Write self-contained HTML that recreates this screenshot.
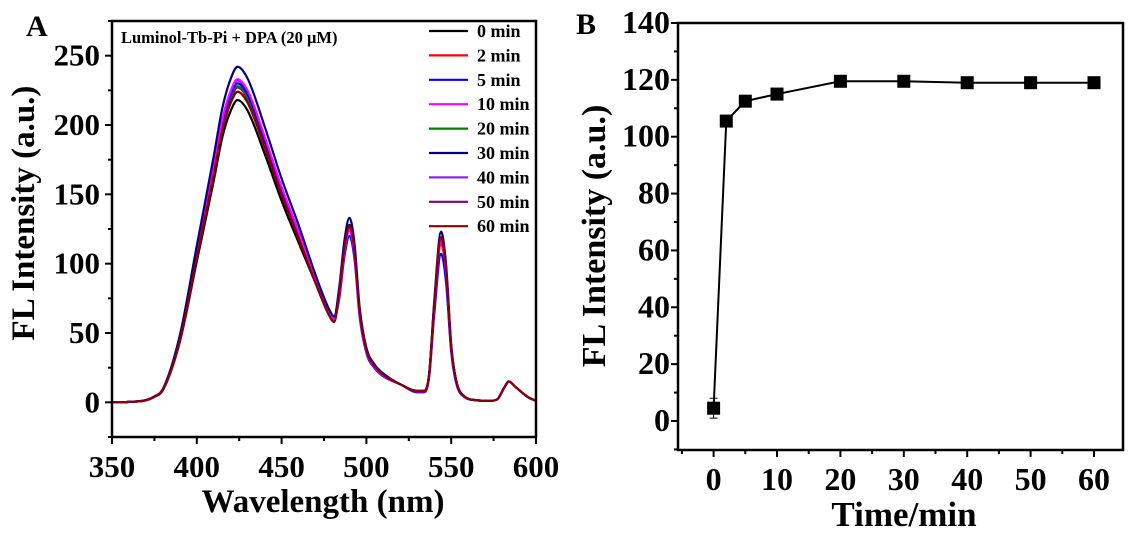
<!DOCTYPE html>
<html><head><meta charset="utf-8">
<style>
html,body{margin:0;padding:0;background:#fff;}
svg{display:block;font-family:"Liberation Serif",serif;font-weight:bold;}
</style></head>
<body>
<svg id="fig" width="1133" height="534" viewBox="0 0 1133 534">
  <g id="pa"></g>
  <g id="pb"></g>
</svg>
<script>
// ---------- Panel A data ----------
const waves = [350,360,370,375,380,390,400,410,415,420,424,430,440,450,460,470,478,481,484,487,490,493,496,500,505,510,520,530,534,537,540,544,547,550,553,558,565,572,577,581,584,588,595,600];
const baseVals = [0,0.3,1.5,4,9,45,105,165,197,217,225,217,185,150,119,89,65,60,80,112,128,110,66,38,26,20,13,8,8,20,70,118,95,40,15,4,1.5,1,2,10,15,11,4,1];
const seriesNames = ["0 min","2 min","5 min","10 min","20 min","30 min","40 min","50 min","60 min"];
const seriesColors = ["#000000","#ff0000","#0000ff","#ff00ff","#008000","#000080","#8a2be2","#800080","#8b0000"];
const mainPeaks = [218,224,230,233,228,242,232,227,224];
const peak490 = [128,126,120,124,127,133,126,127,127];
const peak544 = [118,114,107,116,118,123,117,119,119];
const dipVals = [58,59,61,60,60,62,60,59,58];

// ---------- Panel B data ----------
const times = [0,2,5,10,20,30,40,50,60];
const intensities = [4.5,105.5,112.5,115,119.5,119.5,119,119,119];
const errors = [3.5,0.5,0.5,0.5,0.5,0.5,0.5,0.5,0.5];

const NS="http://www.w3.org/2000/svg";
function mk(tag,attrs,parent,text){const e=document.createElementNS(NS,tag);for(const k in attrs)e.setAttribute(k,attrs[k]);if(text!==undefined)e.textContent=text;parent.appendChild(e);return e;}

// ---------- Panel A ----------
const pa=document.getElementById('pa');
const AL=112,AR=536,AT=21,AB=437;
const ax=v=>AL+(v-350)/(600-350)*(AR-AL);
const ay=v=>AB-(v-(-25))/(275-(-25))*(AB-AT);
const clipA=mk('clipPath',{id:'clipA'},pa);mk('rect',{x:AL,y:AT,width:AR-AL,height:AB-AT},clipA);
const linesA=mk('g',{'clip-path':'url(#clipA)'},pa);


function seriesValues(i){
  return baseVals.map((b,j)=>{
    const w=waves[j];
    if(w<=481){ if(w>=470) return b*dipVals[i]/60; return b*mainPeaks[i]/225; }
    if(w<=515) return b*peak490[i]/128;
    if(w>=530&&w<=560) return b*peak544[i]/118;
    return b;
  });
}
function smoothPath(xs,ys){
  const n=xs.length,d=[],m=[];
  for(let i=0;i<n-1;i++)d.push((ys[i+1]-ys[i])/(xs[i+1]-xs[i]));
  m[0]=d[0];m[n-1]=d[n-2];
  for(let i=1;i<n-1;i++)m[i]=(d[i-1]*d[i]<=0)?0:(d[i-1]+d[i])/2;
  for(let i=0;i<n-1;i++){if(d[i]===0){m[i]=0;m[i+1]=0;continue;}const a=m[i]/d[i],b=m[i+1]/d[i],s=a*a+b*b;if(s>9){const t=3/Math.sqrt(s);m[i]=t*a*d[i];m[i+1]=t*b*d[i];}}
  let p=`M${xs[0]},${ys[0]}`;
  for(let i=0;i<n-1;i++){const h=xs[i+1]-xs[i];p+=` C${xs[i]+h/3},${ys[i]+m[i]*h/3} ${xs[i+1]-h/3},${ys[i+1]-m[i+1]*h/3} ${xs[i+1]},${ys[i+1]}`;}
  return p;
}
const order=[0,1,7,4,6,2,3,5,8];
order.forEach(i=>{
  const vals=seriesValues(i);
  const p=mk('path',{d:smoothPath(waves.map(ax),vals.map(ay)),fill:'none',stroke:seriesColors[i],'stroke-width':2.2},linesA);
  
  
});
mk('rect',{x:AL,y:AT,width:AR-AL,height:AB-AT,fill:'none',stroke:'#000','stroke-width':2.5,},pa);
const xTicksA=[350,400,450,500,550,600];
const yTicksA=[0,50,100,150,200,250];
for(let v=350;v<=600;v+=25){const x=ax(v);mk('line',{x1:x,y1:AB,x2:x,y2:AB+(v%50===0?7:4),stroke:'#000','stroke-width':2},pa);}
for(let v=-25;v<=275;v+=25){const y=ay(v);mk('line',{x1:AL,y1:y,x2:AL-(v%50===0?7:4),y2:y,stroke:'#000','stroke-width':2},pa);}
xTicksA.forEach(v=>{const t=mk('text',{x:ax(v),y:477,'font-size':31,'text-anchor':'middle'},pa,String(v));});
yTicksA.forEach(v=>{const t=mk('text',{x:100,y:ay(v)+10,'font-size':31,'text-anchor':'end'},pa,String(v));});
mk('text',{x:323,y:512,'font-size':33,'text-anchor':'middle',},pa,'Wavelength (nm)');
mk('text',{x:0,y:0,'font-size':33,'text-anchor':'middle',transform:'translate(34,213) rotate(-90)',},pa,'FL Intensity (a.u.)');
mk('text',{x:26,y:36,'font-size':30,},pa,'A');
mk('text',{x:121,y:43,'font-size':16.5,},pa,'Luminol-Tb-Pi + DPA (20 μM)');
seriesNames.forEach((n,i)=>{
  const g=mk('g',{},pa);
  
  
  const y=31+i*24.4;
  mk('line',{x1:429,y1:y,x2:468,y2:y,stroke:seriesColors[i],'stroke-width':2.2},g);
  mk('text',{x:477,y:y+6,'font-size':18},g,n);
});

// ---------- Panel B ----------
const pb=document.getElementById('pb');
const BL=678,BR=1123,BT=23,BB=450;
const bx=v=>713.6+v*(1094-713.6)/60;
const by=v=>421-v*(421-23)/140;
mk('rect',{x:BL,y:BT,width:BR-BL,height:BB-BT,fill:'none',stroke:'#000','stroke-width':2.5,},pb);
for(let v=-5;v<=65;v+=5){const x=bx(v);if(x<BL||x>BR)continue;mk('line',{x1:x,y1:BB,x2:x,y2:BB+(v%10===0?7:4),stroke:'#000','stroke-width':2},pb);}
for(let v=-10;v<=140;v+=10){const y=by(v);mk('line',{x1:BL,y1:y,x2:BL-(v%20===0?7:4),y2:y,stroke:'#000','stroke-width':2},pb);}
const xTicksB=[0,10,20,30,40,50,60];
const yTicksB=[0,20,40,60,80,100,120,140];
xTicksB.forEach(v=>{const t=mk('text',{x:bx(v),y:490,'font-size':32,'text-anchor':'middle'},pb,String(v));});
yTicksB.forEach(v=>{const t=mk('text',{x:670,y:by(v)+10,'font-size':32,'text-anchor':'end'},pb,String(v));});
mk('text',{x:904,y:526,'font-size':35,'text-anchor':'middle',},pb,'Time/min');
mk('text',{x:0,y:0,'font-size':34,'text-anchor':'middle',transform:'translate(605,236) rotate(-90)',},pb,'FL Intensity (a.u.)');
mk('text',{x:576,y:34,'font-size':30,},pb,'B');
const line=mk('polyline',{points:times.map((t,i)=>bx(t)+','+by(intensities[i])).join(' '),fill:'none',stroke:'#000','stroke-width':2},pb);


times.forEach((t,i)=>{
  const x=bx(t),y=by(intensities[i]),e=errors[i];
  const eb=mk('path',{d:`M${x},${by(intensities[i]+e)}V${by(intensities[i]-e)}M${x-4},${by(intensities[i]+e)}H${x+4}M${x-4},${by(intensities[i]-e)}H${x+4}`,stroke:'#000','stroke-width':1,fill:'none'},pb);
  
  
  const r=mk('rect',{x:x-6.5,y:y-6.5,width:13,height:13,fill:'#000'},pb);
  
  
});
</script>
</body></html>
